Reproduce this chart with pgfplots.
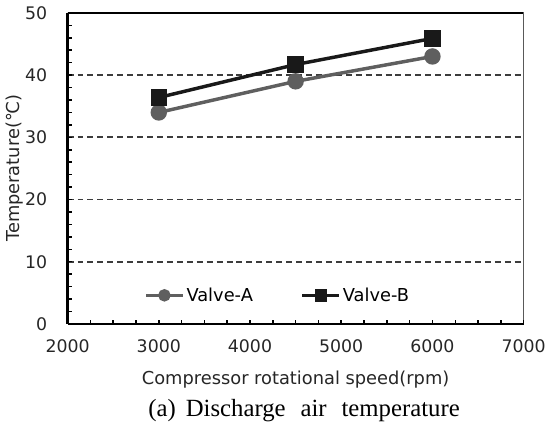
\documentclass[border=0pt]{standalone}
\usepackage{pgfplots}
\pgfplotsset{compat=1.18}
\usepackage{fontspec}
\setmainfont{DejaVu Sans}
\newfontfamily\serifcap{Liberation Serif}
\definecolor{serA}{RGB}{95,95,95}
\definecolor{serB}{RGB}{25,25,25}
\definecolor{gridc}{RGB}{60,60,60}
\begin{document}
\begin{tikzpicture}[x=1bp,y=1bp]
\begin{axis}[
  scale only axis,
  width=459bp, height=313bp,
  xmin=2000, xmax=7000, ymin=0, ymax=50,
  xtick={2000,3000,...,7000},
  ytick={0,10,...,50},
  minor x tick num=3,
  minor y tick num=4,
  tick align=inside,
  major tick length=4bp,
  minor tick length=4bp,
  every minor tick/.style={line width=1.5pt, black},
  every major tick/.style={line width=1.5pt, black},
  xtick pos=bottom, ytick pos=left,
  axis x line*=bottom, axis y line*=left,
  axis line style={line width=2.2pt, black, -},
  /pgf/number format/assume math mode=true,
  /pgf/number format/set thousands separator={},
  tick label style={font=\fontsize{17.5}{20}\selectfont, black!85},
  xticklabel style={yshift=-12bp},
  yticklabel style={xshift=-17bp},
  label style={font=\fontsize{18}{21}\selectfont, black!85},
  xlabel={Compressor rotational speed(rpm)},
  ylabel={Temperature(℃)},
  xlabel style={at={(axis description cs:0.5,0)}, anchor=center, yshift=-56bp},
  ylabel style={at={(axis description cs:0,0.5)}, anchor=center, yshift=53bp},
  ymajorgrids,
  grid style={dash pattern=on 6bp off 4bp, gridc, line width=1.8pt},
  legend style={draw=none, fill=none, inner sep=0pt, at={(axis cs:2839,4.6)}, anchor=west,
    font=\fontsize{18}{21}\selectfont, legend columns=2,
    /tikz/every even column/.append style={column sep=46bp}},
  legend cell align=left,
  legend image code/.code={
    \draw[#1, mark=none] (0bp,0bp) -- (37bp,0bp);
    \draw[#1, only marks, mark size=4.5bp] plot coordinates {(18.5bp,0bp)};
  },
]
\addplot[serA, line width=3.5pt, mark=*, mark size=6.5bp, mark options={solid, fill=serA}]
  coordinates {(3000,34.0) (4500,39.0) (6000,43.0)};
\addlegendentry{Valve-A}
\addplot[serB, line width=3.5pt, mark=square*, mark size=6.5bp, mark options={solid, fill=serB}]
  coordinates {(3000,36.4) (4500,41.7) (6000,45.9)};
\addlegendentry{Valve-B}
\draw[line width=2.2pt, black] (rel axis cs:0,1) -- (rel axis cs:1,1) -- (rel axis cs:1,0);
\end{axis}
\node[font=\serifcap\fontsize{25}{28}\selectfont, anchor=base, inner sep=0pt] at (238bp,-93bp) {(a)\hspace{10bp}Discharge\hspace{15bp}air\hspace{15bp}temperature};
\path[use as bounding box] (-68bp,-112bp) rectangle (481bp,326bp);
\end{tikzpicture}
\end{document}
